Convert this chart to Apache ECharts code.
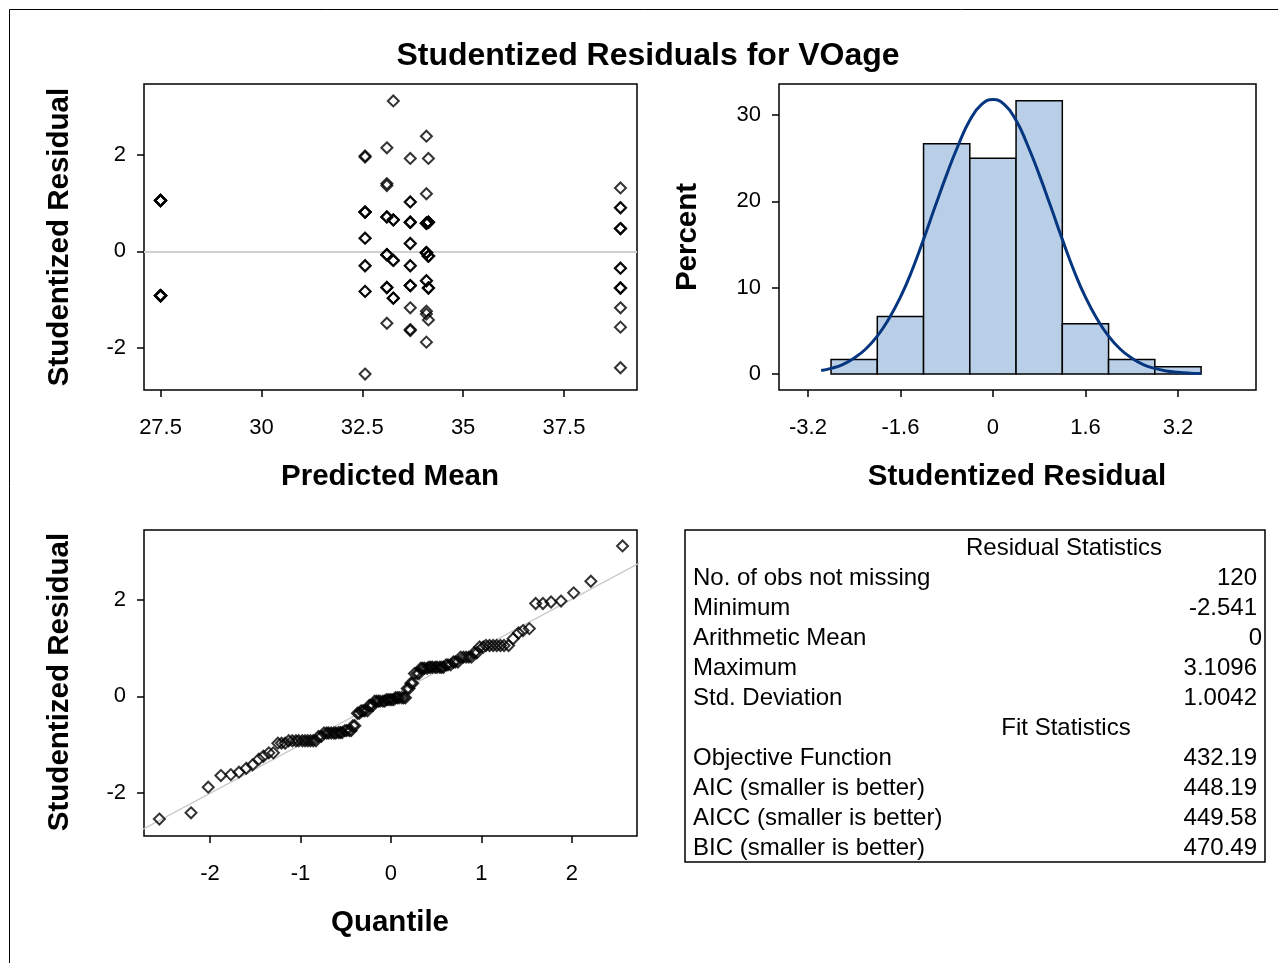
<!DOCTYPE html>
<html><head><meta charset="utf-8">
<script src="https://cdn.jsdelivr.net/npm/echarts@6/dist/echarts.min.js"></script>
<style>html,body{margin:0;padding:0;background:#fff}#c{width:1278px;height:963px}</style>
</head><body><div id="c"></div>
<script>
// ---- data ----
const groupMeans = [27.5, 32.57, 33.11, 33.27, 33.69, 34.09, 34.14, 38.9];
const residG1 = [1.05,1.05,1.05,1.05,1.05,1.05,1.05,-0.92,-0.92,-0.92,-0.92,-0.92,-0.92,-0.92,-0.92,-0.92,-0.92];
const residG2 = [-2.54,-0.83,-0.83,-0.30,-0.30,0.27,0.27,0.81,0.81,0.81,0.81,0.81,1.95,1.97];
const residG3 = [-1.49,-0.75,-0.75,-0.75,-0.07,-0.07,-0.07,-0.07,-0.07,0.71,0.71,0.71,1.36,1.40,2.14];
const residG4 = [-0.97,-0.97,-0.97,-0.19,-0.19,-0.19,0.65,0.65,0.65,3.11];
const residG5 = [-1.64,-1.62,-1.17,-0.71,-0.71,-0.71,-0.71,-0.30,-0.30,0.16,0.16,0.60,0.60,0.60,0.60,1.02,1.02,1.92];
const residG6 = [-1.88,-1.30,-1.24,-0.61,-0.61,-0.03,-0.03,-0.03,-0.03,-0.03,-0.03,0.58,0.58,0.58,0.58,1.19,2.38];
const residG7 = [-1.42,-0.76,-0.76,-0.76,-0.10,-0.10,-0.10,-0.10,-0.10,-0.10,0.60,0.60,0.60,0.60,1.92];
const residG8 = [-2.41,-1.57,-1.17,-0.76,-0.76,-0.76,-0.35,-0.35,0.47,0.47,0.47,0.90,0.90,1.31];
const residGroups = [residG1, residG2, residG3, residG4, residG5, residG6, residG7, residG8];

const qqQuantiles = [-2.56,-2.21,-2.02,-1.88,-1.77,-1.68,-1.60,-1.53,-1.46,-1.41,-1.35,-1.30,-1.25,-1.21,-1.17,-1.13,-1.09,-1.05,-1.02,-0.98,-0.95,-0.92,-0.89,-0.86,-0.83,-0.80,-0.77,-0.74,-0.71,-0.69,-0.66,-0.63,-0.61,-0.58,-0.56,-0.54,-0.51,-0.49,-0.46,-0.44,-0.42,-0.40,-0.37,-0.35,-0.33,-0.31,-0.29,-0.26,-0.24,-0.22,-0.20,-0.18,-0.16,-0.14,-0.12,-0.09,-0.07,-0.05,-0.03,-0.01,
0.01,0.03,0.05,0.07,0.09,0.12,0.14,0.16,0.18,0.20,0.22,0.24,0.26,0.29,0.31,0.33,0.35,0.37,0.40,0.42,0.44,0.46,0.49,0.51,0.54,0.56,0.58,0.61,0.63,0.66,0.69,0.71,0.74,0.77,0.80,0.83,0.86,0.89,0.92,0.95,0.98,1.02,1.05,1.09,1.13,1.17,1.21,1.25,1.30,1.35,1.41,1.46,1.53,1.60,1.68,1.77,1.88,2.02,2.21,2.56];
const qqRefLine = [[-2.8,-2.81],[2.8,2.81]];

const histCenters = [-2.4,-1.6,-0.8,0,0.8,1.6,2.4,3.2];
const histPercent = [1.67,6.67,26.67,25.0,31.67,5.83,1.67,0.83];
const histBinWidth = 0.8;
const curveX = [-2.97,-2.8,-2.6,-2.4,-2.2,-2.0,-1.8,-1.6,-1.4,-1.2,-1.0,-0.8,-0.6,-0.4,-0.2,0,0.2,0.4,0.6,0.8,1.0,1.2,1.4,1.6,1.8,2.0,2.2,2.4,2.6,2.8,3.0,3.2,3.4,3.6];
const curveY = [0.4,0.65,1.1,1.85,2.9,4.4,6.4,8.9,12.0,15.6,19.4,23.1,26.5,29.4,31.2,31.8,31.2,29.4,26.5,23.1,19.4,15.6,12.0,8.9,6.4,4.4,2.9,1.85,1.1,0.65,0.36,0.2,0.1,0.05];

const predTicks = [27.5,30,32.5,35,37.5];
const residTicks = [-2,0,2];
const histXTicks = [-3.2,-1.6,0,1.6,3.2];
const histYTicks = [0,10,20,30];
const qqXTicks = [-2,-1,0,1,2];

const residStats = [["No. of obs not missing","120"],["Minimum","-2.541"],["Arithmetic Mean","0"],["Maximum","3.1096"],["Std. Deviation","1.0042"]];
const fitStats = [["Objective Function","432.19"],["AIC (smaller is better)","448.19"],["AICC (smaller is better)","449.58"],["BIC (smaller is better)","470.49"]];

// ---- build ----
const FONT = '"Liberation Sans", Arial, sans-serif';
const scatterData = [];
residGroups.forEach((g, i) => g.forEach(r => scatterData.push([groupMeans[i], r])));
const sortedResid = scatterData.map(d => d[1]).sort((a, b) => a - b);
const qqData = sortedResid.map((r, i) => [qqQuantiles[i], r]);
const histData = histCenters.map((c, i) => [c, histPercent[i]]);
const curveData = curveX.map((x, i) => [x, curveY[i]]);

function axis(gridIndex, min, max, ticks, isX) {
  return {
    type: 'value', gridIndex, min, max,
    axisLine: {show: false, onZero: false}, splitLine: {show: false},
    axisTick: {show: true, length: 7, customValues: ticks, lineStyle: {color: '#000', width: 1.5}},
    axisLabel: {show: true, customValues: ticks, color: '#000', fontSize: 22, fontFamily: FONT,
      margin: isX ? 27 : 18, formatter: v => String(v)}
  };
}
const diamond = {symbol: 'diamond', symbolSize: 11,
  itemStyle: {color: 'rgba(0,0,0,0)', borderColor: '#000', borderWidth: 2}};

const graphic = [];
graphic.push({type: 'rect', shape: {x: 9.5, y: 9.5, width: 1300, height: 1000}, style: {fill: 'none', stroke: '#000', lineWidth: 1}, silent: true});
function txt(text, x, y, size, bold, align, rot) {
  graphic.push({type: 'text', x, y, rotation: rot || 0, silent: true,
    style: {text, fill: '#000', fontSize: size, fontWeight: bold ? 'bold' : 'normal', fontFamily: FONT,
      align: align || 'center', verticalAlign: 'middle'}});
}
txt('Studentized Residuals for VOage', 648, 56, 32, true);
txt('Predicted Mean', 390, 477, 29.5, true);
txt('Studentized Residual', 1017, 477, 29.5, true);
txt('Quantile', 390, 923, 29.5, true);
txt('Studentized Residual', 60, 237, 29.5, true, 'center', Math.PI / 2);
txt('Percent', 688, 237, 29.5, true, 'center', Math.PI / 2);
txt('Studentized Residual', 60, 682, 29.5, true, 'center', Math.PI / 2);
// table
graphic.push({type: 'rect', shape: {x: 685, y: 530, width: 580, height: 332}, style: {fill: '#fff', stroke: '#000', lineWidth: 1.5}, silent: true});
const rowH = 30, row0 = 548;
txt('Residual Statistics', 1064, row0, 24, false);
residStats.forEach((r, i) => {
  txt(r[0], 693, row0 + rowH * (i + 1), 24, false, 'left');
  txt(r[1], r[1] === '0' ? 1262 : 1257, row0 + rowH * (i + 1), 24, false, 'right');
});
txt('Fit Statistics', 1066, row0 + rowH * 6, 24, false);
fitStats.forEach((r, i) => {
  txt(r[0], 693, row0 + rowH * (i + 7), 24, false, 'left');
  txt(r[1], 1257, row0 + rowH * (i + 7), 24, false, 'right');
});

const option = {
  animation: false,
  backgroundColor: '#fff',
  grid: [
    {left: 144, top: 84, width: 493, height: 306, show: true, borderColor: '#000', borderWidth: 1.5, backgroundColor: 'transparent'},
    {left: 779, top: 84, width: 477, height: 306, show: true, borderColor: '#000', borderWidth: 1.5, backgroundColor: 'transparent'},
    {left: 144, top: 530, width: 493, height: 306, show: true, borderColor: '#000', borderWidth: 1.5, backgroundColor: 'transparent'}
  ],
  xAxis: [
    axis(0, 27.09, 39.31, predTicks, true),
    axis(1, -3.7, 4.55, histXTicks, true),
    axis(2, -2.73, 2.72, qqXTicks, true)
  ],
  yAxis: [
    axis(0, -2.87, 3.46, residTicks, false),
    axis(1, -1.85, 33.6, histYTicks, false),
    axis(2, -2.89, 3.44, residTicks, false)
  ],
  series: [
    Object.assign({type: 'scatter', xAxisIndex: 0, yAxisIndex: 0, data: scatterData, z: 3,
      markLine: {silent: true, symbol: 'none', label: {show: false}, animation: false,
        lineStyle: {color: '#d0d0d0', width: 2, type: 'solid'}, data: [{yAxis: 0}], z: 1}}, diamond),
    {type: 'custom', xAxisIndex: 1, yAxisIndex: 1, data: histData, encode: {x: 0, y: 1}, z: 2,
      renderItem: (params, api) => {
        const c = api.value(0), h = api.value(1);
        const p0 = api.coord([c - histBinWidth / 2, h]);
        const p1 = api.coord([c + histBinWidth / 2, 0]);
        return {type: 'rect', shape: {x: p0[0], y: p0[1], width: p1[0] - p0[0], height: p1[1] - p0[1]},
          style: {fill: '#b9cfe7', stroke: '#000', lineWidth: 1.5}};
      }},
    {type: 'line', xAxisIndex: 1, yAxisIndex: 1, data: curveData, smooth: true, showSymbol: false, z: 4,
      lineStyle: {color: '#06367f', width: 3}},
    {type: 'line', xAxisIndex: 2, yAxisIndex: 2, data: qqRefLine, showSymbol: false, clip: true, z: 2,
      lineStyle: {color: '#c8c8c8', width: 1.5}},
    Object.assign({type: 'scatter', xAxisIndex: 2, yAxisIndex: 2, data: qqData, z: 3}, diamond)
  ],
  graphic
};
const chart = echarts.init(document.getElementById('c'), null, {renderer: 'canvas'});
chart.setOption(option);
</script></body></html>
